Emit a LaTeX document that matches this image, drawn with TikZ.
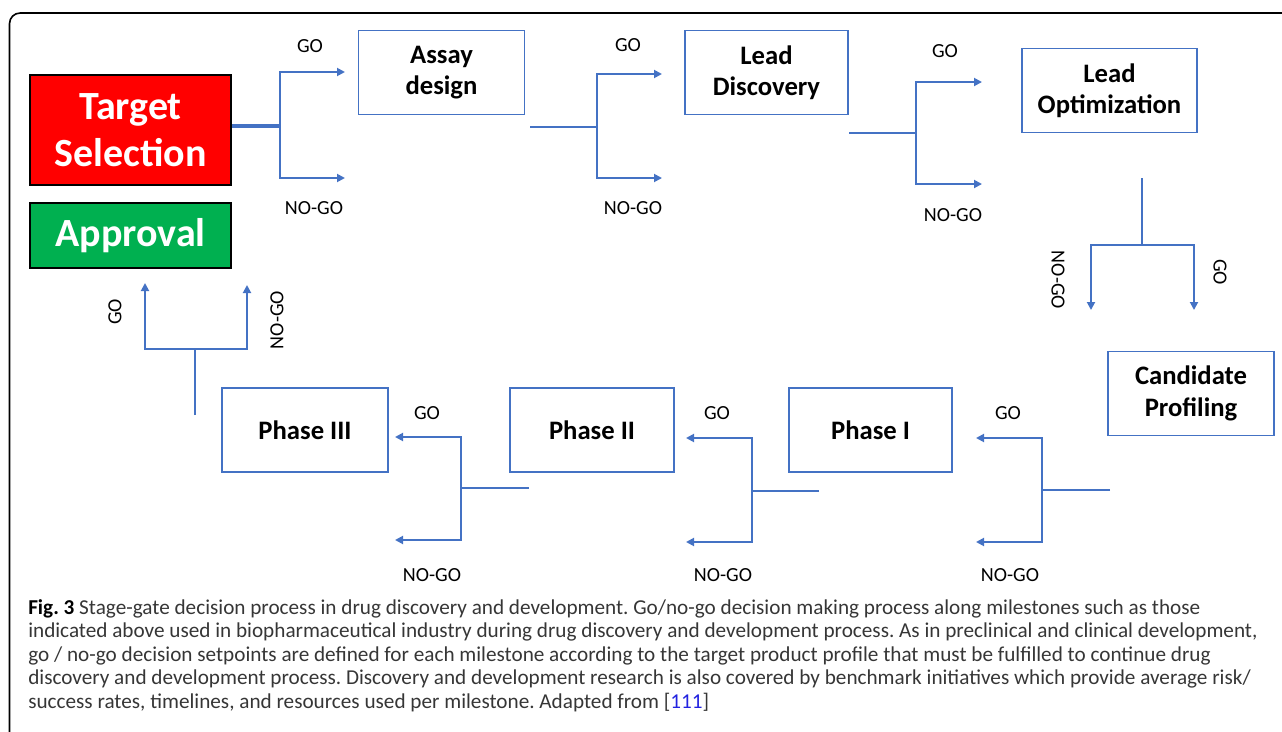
\documentclass[tikz,border=0pt]{standalone}
\usepackage{fontspec}
\setmainfont{Carlito}
\usetikzlibrary{arrows.meta}
\definecolor{lineblue}{HTML}{4472C4}
\definecolor{gored}{HTML}{FF0000}
\definecolor{gogreen}{HTML}{00B050}
\definecolor{capgray}{HTML}{363636}
\definecolor{linkblue}{HTML}{2323E0}
\frenchspacing

\begin{document}
\begin{tikzpicture}[x=0.75pt,y=-0.75pt,
base/.style={
draw,
align=center,
inner sep=0pt,
},
bold/.style={
font={\bfseries\color{black}\fontsize{20pt}{23.5pt}\selectfont},
},
big/.style={
font={\bfseries\color{white}\fontsize{30pt}{35pt}\selectfont},
},
stage/.style={
base,
bold,
draw=lineblue,
line width=1.2pt,
minimum width=124.5pt,
minimum height=63pt,
},
colored/.style={
base,
big,
line width=1.5pt,
minimum width=150.75pt,
},
flow/.style={
draw=lineblue,
line width=1.4pt,
},
go/.style={
flow,
-{Triangle[length=6pt,width=6pt]},
},
decision/.style={
font={\fontsize{15pt}{15pt}\selectfont},
},
]
\useasboundingbox (0,0) rectangle (1282,732);
\clip (0,0) rectangle (1282,732);
\draw[line width=1.2pt,rounded corners=8pt] (9.5,13) rectangle (1300,760);

% stages
\node[colored,fill=gored,minimum height=82.5pt](ts)at(130.5,130){Target\\Selection};
\node[colored,fill=gogreen,minimum height=48.75pt](ap)at(130.5,235.5){Approval};
\node[stage](ad)at(441.5,72.5){Assay\\design};
\node[stage,minimum width=122.25pt](ld)at(766.5,72.5){Lead\\Discovery};
\node[stage,minimum width=131.25pt](lo)at(1109.5,90.5){Lead\\Optimization};
\node[stage](cp)at(1191,393.5){Candidate\\Profiling};
\node[stage,minimum width=122.25pt](p1)at(870.5,430){Phase I};
\node[stage,minimum width=123pt](p2)at(592,430){Phase II};
\node[stage](p3)at(305,430){Phase III};

% gates
\coordinate(f1)at(280,126);
\coordinate(g1)at(345,72);
\coordinate(n1)at(345,178);
\coordinate(s2)at(530,127);
\coordinate(f2)at(597,127);
\coordinate(g2)at(662,74);
\coordinate(n2)at(662,178);
\coordinate(s3)at(849,133);
\coordinate(f3)at(916,133);
\coordinate(g3)at(982,82);
\coordinate(n3)at(982,184);
\coordinate(s4)at(1142,178);
\coordinate(f4)at(1142,245);
\coordinate(n4)at(1091,310);
\coordinate(g4)at(1194,310);
\coordinate(s5)at(1110,490);
\coordinate(f5)at(1042,490);
\coordinate(g5)at(976,438);
\coordinate(n5)at(976,542);
\coordinate(s6)at(819,491);
\coordinate(f6)at(752,491);
\coordinate(g6)at(686,438);
\coordinate(n6)at(686,542);
\coordinate(s7)at(529,488);
\coordinate(f7)at(461,488);
\coordinate(g7)at(395,437);
\coordinate(n7)at(395,540);
\coordinate(s8)at(195,415);
\coordinate(f8)at(195,349);
\coordinate(g8)at(145,283);
\coordinate(n8)at(247,285);

\draw[flow,line width=2.4pt](ts.east|-f1)--(f1);
\draw[go](f1)|-(g1);
\draw[go](f1)|-(n1);
\draw[flow](s2)--(f2);
\draw[go](f2)|-(g2);
\draw[go](f2)|-(n2);
\draw[flow](s3)--(f3);
\draw[go](f3)|-(g3);
\draw[go](f3)|-(n3);
\draw[flow](s4)--(f4);
\draw[go](f4)-|(n4);
\draw[go](f4)-|(g4);
\draw[flow](s5)--(f5);
\draw[go](f5)|-(g5);
\draw[go](f5)|-(n5);
\draw[flow](s6)--(f6);
\draw[go](f6)|-(g6);
\draw[go](f6)|-(n6);
\draw[flow](s7)--(f7);
\draw[go](f7)|-(g7);
\draw[go](f7)|-(n7);
\draw[flow](s8)--(f8);
\draw[go](f8)-|(g8);
\draw[go](f8)-|(n8);

\node[decision](tg1)at(310,46){GO};
\node[decision](tn1)at(314,208){NO-GO};
\node[decision](tg2)at(628,45){GO};
\node[decision](tn2)at(633,208){NO-GO};
\node[decision](tg3)at(945,51){GO};
\node[decision](tn3)at(953,215){NO-GO};
\node[decision,rotate=-90](tn4)at(1058,280){NO-GO};
\node[decision,rotate=-90](tg4)at(1220,272){GO};
\node[decision](tg5)at(1008,413){GO};
\node[decision](tn5)at(1010,575){NO-GO};
\node[decision](tg6)at(717,413){GO};
\node[decision](tn6)at(723,575){NO-GO};
\node[decision](tg7)at(427,413){GO};
\node[decision](tn7)at(432,575){NO-GO};
\node[decision,rotate=90](tg8)at(115,312){GO};
\node[decision,rotate=90](tn8)at(277,320){NO-GO};

\node[anchor=north west,align=left,inner sep=0pt,text=capgray,font={\fontsize{15.9pt}{17.6pt}\selectfont}](caption)at(28,599){\textbf{\color{black}Fig. 3} Stage-gate decision process in drug discovery and development. Go/no-go decision making process along milestones such as those\\
indicated above used in biopharmaceutical industry during drug discovery and development process. As in preclinical and clinical development,\\
go / no-go decision setpoints are defined for each milestone according to the target product profile that must be fulfilled to continue drug\\
discovery and development process. Discovery and development research is also covered by benchmark initiatives which provide average risk/\\
success rates, timelines, and resources used per milestone. Adapted from [{\color{linkblue}111}]};
\end{tikzpicture}
\end{document}
